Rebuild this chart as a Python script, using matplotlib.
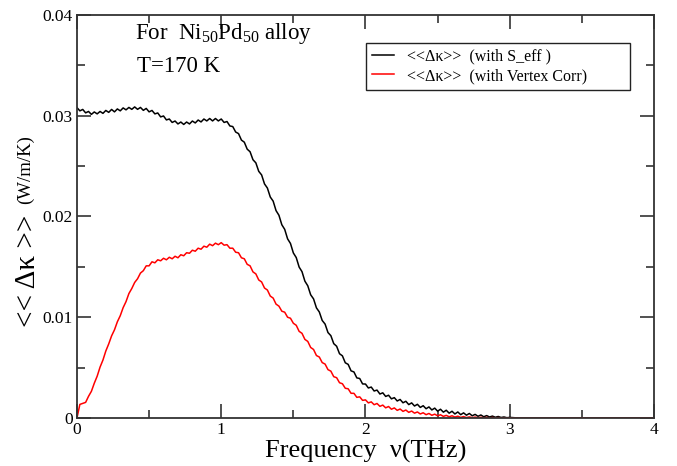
"""
Thermal conductivity fluctuation <<dk>> vs frequency, Ni50Pd50 at 170 K
"""

import numpy as np
import matplotlib
matplotlib.use("Agg")
import matplotlib.pyplot as plt
from matplotlib.ticker import MultipleLocator

plt.rcParams['font.family'] = ['Liberation Serif', 'DejaVu Serif']
plt.rcParams['mathtext.fontset'] = 'custom'
plt.rcParams['mathtext.rm'] = 'Liberation Serif'
plt.rcParams['mathtext.it'] = 'Liberation Serif:italic'

# frequency grid (THz), step 0.02 up to 3, then flat tail to 4
freq_main = np.linspace(0.0, 3.0, 151)
freq_tail = [3.06, 4.0]

# <<dk>> with S_eff, in 1e-3 W/m/K
kappa_seff = [
	30.80, 30.48, 30.62, 30.28, 30.42, 30.13, 30.37, 30.18, 30.42, 30.23,
	30.52, 30.33, 30.62, 30.38, 30.67, 30.48, 30.77, 30.58, 30.82, 30.63,
	30.87, 30.63, 30.82, 30.53, 30.72, 30.38, 30.52, 30.18, 30.27, 29.88,
	29.97, 29.58, 29.67, 29.33, 29.47, 29.18, 29.37, 29.13, 29.37, 29.18,
	29.47, 29.28, 29.57, 29.38, 29.67, 29.48, 29.72, 29.48, 29.72, 29.48,
	29.67, 29.33, 29.42, 28.98, 28.92, 28.38, 28.22, 27.58, 27.37, 26.68,
	26.42, 25.63, 25.32, 24.48, 24.12, 23.23, 22.82, 21.93, 21.52, 20.58,
	20.12, 19.18, 18.72, 17.78, 17.32, 16.38, 15.92, 14.98, 14.52, 13.58,
	13.12, 12.23, 11.82, 10.93, 10.52, 9.68, 9.32, 8.48, 8.17, 7.38,
	7.12, 6.38, 6.17, 5.48, 5.32, 4.68, 4.57, 3.98, 3.92, 3.38,
	3.37, 2.98, 3.07, 2.68, 2.77, 2.38, 2.50, 2.14, 2.26, 1.90,
	2.02, 1.69, 1.84, 1.51, 1.66, 1.33, 1.50, 1.19, 1.36, 1.05,
	1.22, 0.92, 1.10, 0.80, 0.98, 0.68, 0.87, 0.58, 0.77, 0.48,
	0.67, 0.40, 0.60, 0.33, 0.51, 0.28, 0.45, 0.22, 0.36, 0.17,
	0.30, 0.12, 0.24, 0.10, 0.19, 0.07, 0.15, 0.05, 0.10, 0.03,
	0.06, 0.00, 0.00,
]

# <<dk>> with vertex correction, in 1e-3 W/m/K
kappa_vertex = [
	0.00, 1.35, 1.45, 1.55, 2.15, 2.65, 3.45, 4.15, 5.05, 5.75,
	6.65, 7.35, 8.15, 8.75, 9.55, 10.15, 10.95, 11.55, 12.35, 12.85,
	13.45, 13.82, 14.38, 14.62, 15.10, 15.10, 15.50, 15.40, 15.70, 15.60,
	15.85, 15.70, 15.95, 15.80, 16.05, 15.90, 16.20, 16.10, 16.40, 16.35,
	16.65, 16.55, 16.85, 16.75, 17.05, 16.95, 17.25, 17.10, 17.35, 17.20,
	17.40, 17.15, 17.20, 16.85, 16.85, 16.45, 16.40, 15.90, 15.80, 15.25,
	15.10, 14.50, 14.30, 13.70, 13.50, 12.90, 12.70, 12.10, 11.90, 11.30,
	11.10, 10.60, 10.50, 10.00, 9.90, 9.40, 9.20, 8.60, 8.40, 7.80,
	7.60, 7.00, 6.80, 6.20, 6.05, 5.50, 5.35, 4.80, 4.65, 4.10,
	4.00, 3.50, 3.40, 2.95, 2.90, 2.45, 2.45, 2.05, 2.10, 1.75,
	1.80, 1.50, 1.60, 1.32, 1.44, 1.16, 1.28, 1.01, 1.14, 0.87,
	1.00, 0.76, 0.89, 0.66, 0.79, 0.56, 0.69, 0.48, 0.60, 0.40,
	0.52, 0.33, 0.45, 0.27, 0.38, 0.22, 0.32, 0.16, 0.26, 0.12,
	0.22, 0.09, 0.18, 0.06, 0.14, 0.04, 0.11, 0.03, 0.09, 0.02,
	0.07, 0.02, 0.06, 0.01, 0.05, 0.01, 0.04, 0.00, 0.03, 0.00,
	0.02, 0.00, 0.00,
]

freq = np.concatenate([freq_main, freq_tail])
k_seff = np.array(kappa_seff) * 1e-3
k_vert = np.array(kappa_vertex) * 1e-3

fig = plt.figure(figsize=(6.77, 4.66), dpi=100)
ax = fig.add_axes([0.1137, 0.103, 0.8523, 0.865])

ax.plot(freq, k_seff, color="black", lw=1.1, label="<<Δκ>>  (with S_eff )")
ax.plot(freq, k_vert, color="#ff0000", lw=1.1, label="<<Δκ>>  (with Vertex Corr)")

ax.set_xlim(0, 4)
ax.set_ylim(0, 0.04)
ax.xaxis.set_major_locator(MultipleLocator(1))
ax.xaxis.set_minor_locator(MultipleLocator(0.5))
ax.yaxis.set_major_locator(MultipleLocator(0.01))
ax.yaxis.set_minor_locator(MultipleLocator(0.005))
ax.xaxis.set_major_formatter(plt.FuncFormatter(lambda v, p: "%g" % v))
ax.yaxis.set_major_formatter(plt.FuncFormatter(lambda v, p: "0" if v == 0 else "%.2f" % v))

ax.tick_params(which="both", direction="in", top=True, right=True, colors="#333333",
	labelcolor="black", labelsize=12.5, width=1.2)
ax.tick_params(which="major", length=10, pad=3)
ax.tick_params(which="minor", length=6)
for sp in ax.spines.values():
	sp.set_color("#333333")
	sp.set_linewidth(1.3)

ax.set_xlabel("Frequency  ν(THz)", fontsize=19, labelpad=1)

# y label in two sizes, as in the original
fig.text(0.042, 0.418, "<< Δκ >>", rotation=90, fontsize=21, ha="center", va="center")
fig.text(0.037, 0.636, "(W/m/K)", rotation=90, fontsize=13.5, ha="center", va="center")

ax.text(0.10, 0.955, r"For  Ni$_{\mathregular{50}}$Pd$_{\mathregular{50}}$ alloy", transform=ax.transAxes,
	fontsize=16.5, ha="left", va="center")
ax.text(0.104, 0.873, "T=170 K", transform=ax.transAxes, fontsize=16.5, ha="left", va="center")

leg = ax.legend(loc="upper left", bbox_to_anchor=(0.501, 0.816, 0.457, 0.114), mode="expand",
	borderaxespad=0.0, fontsize=11.5, handlelength=1.4, handletextpad=0.8, borderpad=0.35,
	labelspacing=0.2, fancybox=False, framealpha=1, edgecolor="#222222")
leg.get_frame().set_linewidth(1.0)

fig.savefig("out.png", dpi=100)
